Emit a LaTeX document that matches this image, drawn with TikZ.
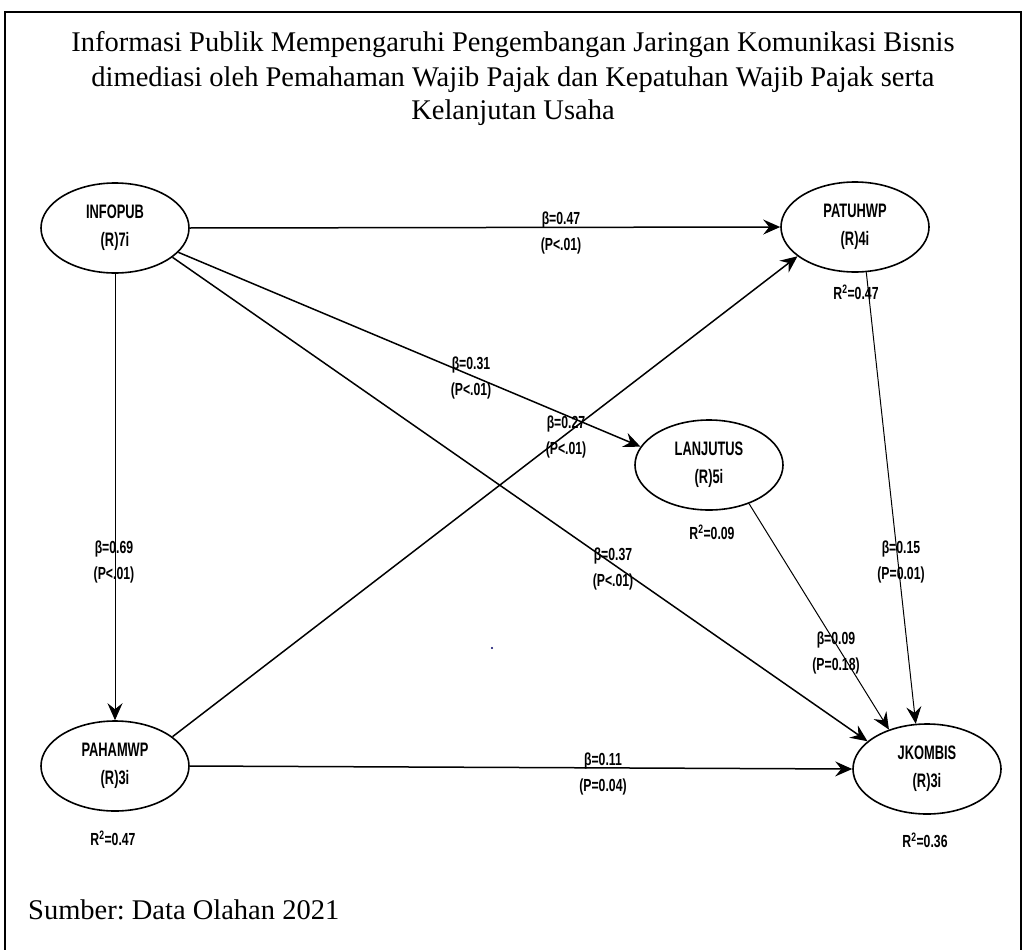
\documentclass[tikz,border=0pt]{standalone}
\usepackage{fontspec}
\setmainfont{Liberation Serif}
\newfontfamily\pathfont[FakeStretch=0.7]{Liberation Sans}
\newfontfamily\latentfont[FakeStretch=0.66]{Liberation Sans}
\usetikzlibrary{shapes.geometric,arrows.meta}
\frenchspacing

\begin{document}
\begin{tikzpicture}[x=1pt,y=-1pt,
  latent/.style={ellipse, draw, line width=1.6pt, minimum width=148pt,
    minimum height=90pt, inner sep=0pt, align=center,
    font=\latentfont\bfseries\fontsize{19.5}{28}\selectfont},
  coef/.style={inner sep=0pt, align=center,
    font=\pathfont\bfseries\fontsize{17.5}{26}\selectfont},
  path/.style={line width=1.5pt, -{Stealth[length=17pt,width=15pt,inset=6pt]}},
  thinpath/.style={path, line width=1pt},
  titletext/.style={inner sep=0pt, anchor=base, font=\fontsize{28.5}{34}\selectfont},
]
% canvas and frame
\useasboundingbox (0,0) rectangle (1028,950);
\fill[white] (0,0) rectangle (1028,950);
\draw[line width=1.6pt] (5,955) -- (5,12) -- (1021,12) -- (1021,955);

% title and source
\node[titletext] (t1) at (513,52) {Informasi Publik Mempengaruhi Pengembangan Jaringan Komunikasi Bisnis};
\node[titletext] (t2) at (513,86) {dimediasi oleh Pemahaman Wajib Pajak dan Kepatuhan Wajib Pajak serta};
\node[titletext] (t3) at (513,119) {Kelanjutan Usaha};
\node[titletext, anchor=base west] (src) at (28,919) {Sumber: Data Olahan 2021};

% latent variables
\node[latent] (info)  at (115,228) {INFOPUB\\(R)7i};
\node[latent] (patuh) at (855,227) {PATUHWP\\(R)4i};
\node[latent] (lanj)  at (709,465) {LANJUTUS\\(R)5i};
\node[latent] (paham) at (115,766) {PAHAMWP\\(R)3i};
\node[latent] (jk)    at (927,769) {JKOMBIS\\(R)3i};

% paths
\draw[path] (info.east) -- (patuh.west);
\draw[path] (info.-21) -- (lanj.165);
\draw[path] (info.-27) -- (jk.155);
\draw[thinpath] (info.south) -- (paham.north);
\draw[path] (paham.27) -- (patuh.-153);
\draw[path] (paham.east) -- (jk.west);
\draw[thinpath] (lanj.-44) -- (jk.134);
\draw[thinpath] (patuh.-76) -- (jk.104);

% path coefficients
\node[coef] (c1) at (561,233) {β=0.47\\(P<.01)};
\node[coef] (c2) at (471,378) {β=0.31\\(P<.01)};
\node[coef] (c3) at (613,569) {β=0.37\\(P<.01)};
\node[coef] (c4) at (114,562) {β=0.69\\(P<.01)};
\node[coef] (c5) at (566,437) {β=0.27\\(P<.01)};
\node[coef] (c6) at (603,774) {β=0.11\\(P=0.04)};
\node[coef] (c7) at (836,653) {β=0.09\\(P=0.18)};
\node[coef] (c8) at (901,562) {β=0.15\\(P=0.01)};

% explained variance
\node[coef] (r1) at (856,292) {R\textsuperscript{2}=0.47};
\node[coef] (r2) at (712,532) {R\textsuperscript{2}=0.09};
\node[coef] (r3) at (113,838) {R\textsuperscript{2}=0.47};
\node[coef] (r4) at (925,840) {R\textsuperscript{2}=0.36};

% stray mark
\fill[blue!40!black] (492,648) circle (1.2pt);
\end{tikzpicture}
\end{document}
